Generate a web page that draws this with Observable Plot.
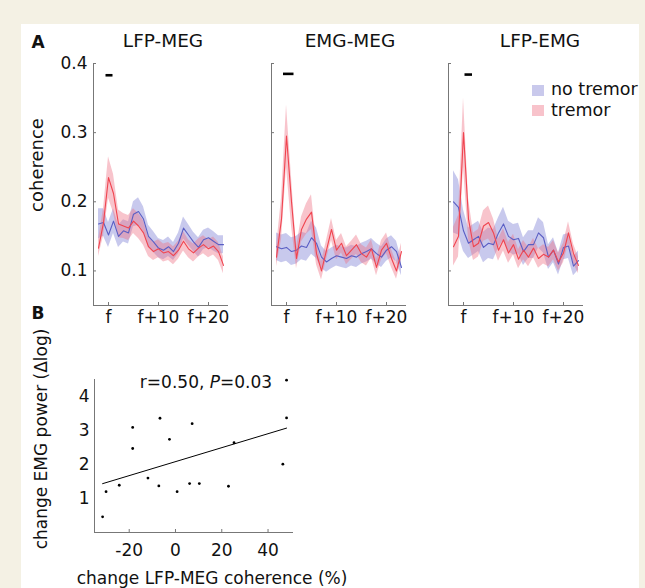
<!DOCTYPE html>
<html><head><meta charset="utf-8">
<script src="https://cdn.jsdelivr.net/npm/d3@7"></script>
<script src="https://cdn.jsdelivr.net/npm/@observablehq/plot@0.6"></script>
<style>
html,body{margin:0;padding:0;}
body{background:#f4f1e4;width:645px;height:588px;overflow:hidden;position:relative;font-family:"DejaVu Sans",sans-serif;color:#111;}
#card{position:absolute;left:21px;top:24px;width:618px;height:564px;background:#fff;}
.c{position:absolute;transform:translate(-50%,-50%);white-space:nowrap;line-height:1;font-size:17px;}
.rot{transform:translate(-50%,-50%) rotate(-90deg);}
.pl{position:absolute;}
.pl svg{overflow:visible;}
.sw{position:absolute;width:12px;height:11px;}
.lt{position:absolute;transform:translateY(-50%);line-height:1;font-size:17.5px;white-space:nowrap;}
</style></head><body>
<div id="card"></div>
<div id="charts"></div>
<div class="c" style="left:38px;top:42px;font-weight:bold;font-size:17px;">A</div>
<div class="c" style="left:38px;top:313px;font-weight:bold;font-size:17px;">B</div>
<div class="c" style="left:163px;top:41px;font-size:18.5px;">LFP-MEG</div>
<div class="c" style="left:350px;top:41px;font-size:18.5px;">EMG-MEG</div>
<div class="c" style="left:540px;top:41px;font-size:18.5px;">LFP-EMG</div>
<div class="c rot" style="left:37px;top:165px;font-size:18px;">coherence</div>
<div class="c rot" style="left:41px;top:439px;font-size:17px;">change EMG power (Δlog)</div>
<div class="c" style="left:212px;top:578px;">change LFP-MEG coherence (%)</div>
<div class="c" style="left:206px;top:382px;">r=0.50, <i>P</i>=0.03</div>
<div class="sw" style="left:532px;top:85px;background:#c9c9ec;"></div>
<div class="lt" style="left:551px;top:90px;">no tremor</div>
<div class="sw" style="left:532px;top:105px;background:#f8c3cb;"></div>
<div class="lt" style="left:551px;top:111px;">tremor</div>
<script>
// ---- data: coherence spectra (frequency relative to tremor frequency f) ----
const freqs = [-2,-1,0,1,2,3,4,5,6,7,8,9,10,11,12,13,14,15,16,17,18,19,20,21,22,23];

const lfpMegNoTremor    = [0.168,0.17,0.152,0.172,0.15,0.158,0.155,0.182,0.186,0.175,0.15,0.142,0.133,0.13,0.135,0.128,0.14,0.162,0.152,0.142,0.134,0.145,0.148,0.143,0.138,0.138];
const lfpMegNoTremorSem = [0.022,0.02,0.018,0.018,0.016,0.016,0.016,0.018,0.02,0.018,0.016,0.015,0.014,0.014,0.014,0.013,0.015,0.016,0.015,0.014,0.014,0.014,0.014,0.014,0.013,0.013];
const lfpMegTremor      = [0.133,0.17,0.235,0.212,0.168,0.165,0.162,0.172,0.165,0.155,0.135,0.128,0.132,0.126,0.128,0.122,0.13,0.143,0.132,0.126,0.133,0.138,0.132,0.136,0.128,0.108];
const lfpMegTremorSem   = [0.012,0.02,0.03,0.028,0.02,0.018,0.018,0.018,0.018,0.018,0.014,0.013,0.013,0.013,0.013,0.013,0.013,0.014,0.013,0.013,0.013,0.013,0.013,0.013,0.013,0.012];

const emgMegNoTremor    = [0.135,0.132,0.134,0.128,0.13,0.136,0.134,0.148,0.14,0.12,0.113,0.118,0.122,0.12,0.118,0.122,0.12,0.125,0.128,0.132,0.125,0.12,0.13,0.135,0.128,0.105];
const emgMegNoTremorSem = [0.02,0.02,0.02,0.02,0.02,0.02,0.02,0.024,0.022,0.016,0.015,0.015,0.015,0.015,0.015,0.015,0.015,0.015,0.015,0.015,0.015,0.015,0.016,0.016,0.015,0.012];
const emgMegTremor      = [0.12,0.175,0.295,0.2,0.118,0.16,0.175,0.185,0.125,0.1,0.13,0.16,0.13,0.14,0.122,0.13,0.138,0.125,0.12,0.132,0.105,0.13,0.14,0.118,0.1,0.128];
const emgMegTremorSem   = [0.014,0.03,0.045,0.035,0.015,0.018,0.022,0.025,0.016,0.013,0.014,0.016,0.014,0.014,0.013,0.013,0.014,0.013,0.013,0.013,0.012,0.014,0.015,0.013,0.012,0.012];

const lfpEmgNoTremor    = [0.2,0.192,0.158,0.14,0.145,0.15,0.134,0.14,0.138,0.155,0.168,0.15,0.145,0.147,0.128,0.138,0.138,0.155,0.148,0.12,0.13,0.11,0.134,0.136,0.107,0.115];
const lfpEmgNoTremorSem = [0.045,0.04,0.03,0.022,0.022,0.022,0.022,0.022,0.022,0.022,0.024,0.022,0.022,0.022,0.02,0.02,0.02,0.022,0.022,0.018,0.018,0.016,0.018,0.018,0.014,0.014];
const lfpEmgTremor      = [0.135,0.15,0.3,0.175,0.135,0.14,0.165,0.17,0.155,0.13,0.145,0.126,0.138,0.117,0.13,0.12,0.133,0.118,0.124,0.12,0.13,0.113,0.126,0.155,0.125,0.108];
const lfpEmgTremorSem   = [0.028,0.03,0.05,0.03,0.02,0.02,0.022,0.024,0.02,0.016,0.016,0.015,0.015,0.014,0.014,0.014,0.014,0.014,0.014,0.014,0.014,0.013,0.014,0.016,0.014,0.012];

// significance bars (frequency range, coherence level)
const sigStart = [-0.5, -0.6, 0.3];
const sigEnd   = [0.9, 1.5, 1.8];
const sigLevel = [0.383, 0.385, 0.384];

const xTicks = [0, 10, 20];
const xTickLabels = ["f", "f+10", "f+20"];
const yTicks = [0.1, 0.2, 0.3, 0.4];
const yTickLabels = ["0.1", "0.2", "0.3", "0.4"];

// ---- data: scatter ----
const coherenceChange = [-31.5,-30,-24.3,-18.5,-18.5,-11.9,-7.2,-6.7,-2.6,0.7,6.1,7.2,10.3,22.9,25.3,46.4,48,48];
const emgPowerChange  = [0.46,1.2,1.39,3.09,2.47,1.6,1.37,3.36,2.74,1.2,1.44,3.2,1.44,1.36,2.64,2.01,3.37,4.48];
const scatterXTicks = [-20, 0, 20, 40];
const scatterXTickLabels = ["-20", "0", "20", "40"];
const scatterYTicks = [1, 2, 3, 4];
const scatterYTickLabels = ["1", "2", "3", "4"];

// ---- colours ----
const blueLine = "#5a5ec4", blueFill = "#8587d6";
const redLine = "#f0444f", redFill = "#ef7386";
const axisColor = "#777";

const xLabelMap = new Map(xTicks.map((t, i) => [t, xTickLabels[i]]));
const yLabelMap = new Map(yTicks.map((t, i) => [t, yTickLabels[i]]));
const sxLabelMap = new Map(scatterXTicks.map((t, i) => [t, scatterXTickLabels[i]]));
const syLabelMap = new Map(scatterYTicks.map((t, i) => [t, scatterYTickLabels[i]]));

function rows(mean, sem) {
  return freqs.map((f, i) => ({f, m: mean[i], lo: mean[i] - sem[i], hi: mean[i] + sem[i]}));
}

const panels = [
  {left: 20, no: rows(lfpMegNoTremor, lfpMegNoTremorSem), tr: rows(lfpMegTremor, lfpMegTremorSem), k: 0, labels: true},
  {left: 198, no: rows(emgMegNoTremor, emgMegNoTremorSem), tr: rows(emgMegTremor, emgMegTremorSem), k: 1, labels: false},
  {left: 375, no: rows(lfpEmgNoTremor, lfpEmgNoTremorSem), tr: rows(lfpEmgTremor, lfpEmgTremorSem), k: 2, labels: false}
];

const holder = document.getElementById("charts");
const style = {fontFamily: "DejaVu Sans, sans-serif", fontSize: "17px", color: "#111", background: "transparent", overflow: "visible"};

for (const p of panels) {
  const sig = [{x1: sigStart[p.k], x2: sigEnd[p.k], y: sigLevel[p.k]}];
  const chart = Plot.plot({
    width: 215, height: 320,
    marginLeft: 73, marginRight: 7, marginTop: 43, marginBottom: 35,
    style,
    x: {domain: [-3, 24]},
    y: {domain: [0.05, 0.4]},
    marks: [
      Plot.areaY(p.no, {x: "f", y1: "lo", y2: "hi", fill: blueFill, fillOpacity: 0.45}),
      Plot.areaY(p.tr, {x: "f", y1: "lo", y2: "hi", fill: redFill, fillOpacity: 0.42}),
      Plot.lineY(p.no, {x: "f", y: "m", stroke: blueLine, strokeWidth: 1.1}),
      Plot.lineY(p.tr, {x: "f", y: "m", stroke: redLine, strokeWidth: 1.1}),
      Plot.ruleX([-3], {stroke: axisColor}),
      Plot.ruleY([0.05], {stroke: axisColor}),
      Plot.axisX({ticks: xTicks, tickFormat: d => xLabelMap.get(d), tickSize: -3, tickPadding: 8, label: null, stroke: axisColor}),
      Plot.axisY({ticks: yTicks, tickFormat: d => p.labels ? yLabelMap.get(d) : "", tickSize: -3, tickPadding: 9, label: null, stroke: axisColor}),
      Plot.ruleY(sig, {y: "y", x1: "x1", x2: "x2", stroke: "#000", strokeWidth: 2.6})
    ]
  });
  const div = document.createElement("div");
  div.className = "pl";
  div.style.left = p.left + "px";
  div.style.top = "20px";
  div.appendChild(chart);
  holder.appendChild(div);
}

const pts = coherenceChange.map((x, i) => ({x, y: emgPowerChange[i]}));
const scatter = Plot.plot({
  width: 283, height: 202,
  marginLeft: 74, marginRight: 10, marginTop: 19, marginBottom: 30,
  style,
  x: {domain: [-35, 51]},
  y: {domain: [0, 4.5]},
  marks: [
    Plot.ruleX([-35], {stroke: axisColor}),
    Plot.ruleY([0], {stroke: axisColor}),
    Plot.linearRegressionY(pts, {x: "x", y: "y", ci: 0, stroke: "#000", strokeWidth: 1}),
    Plot.dot(pts, {x: "x", y: "y", r: 1.4, fill: "#000", stroke: null}),
    Plot.axisX({ticks: scatterXTicks, tickFormat: d => sxLabelMap.get(d), tickSize: -3, tickPadding: 14, label: null, stroke: axisColor}),
    Plot.axisY({ticks: scatterYTicks, tickFormat: d => syLabelMap.get(d), tickSize: 0, tickPadding: 5, label: null})
  ]
});
const sdiv = document.createElement("div");
sdiv.className = "pl";
sdiv.style.left = "20px";
sdiv.style.top = "360px";
sdiv.appendChild(scatter);
holder.appendChild(sdiv);
</script>
</body></html>
